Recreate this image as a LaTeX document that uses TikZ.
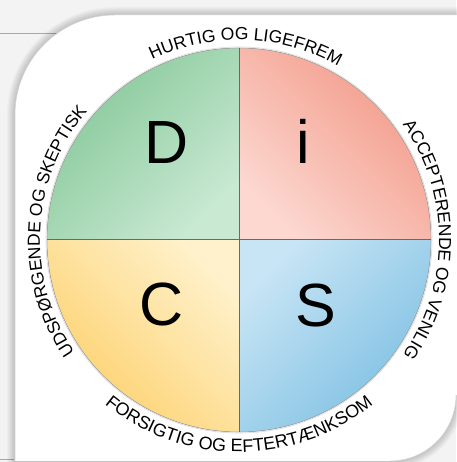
\documentclass[tikz,border=0pt]{standalone}
\usepackage{fontspec}
\setmainfont{Liberation Sans}
\usetikzlibrary{decorations.text}

\definecolor{pagegray}{HTML}{F3F3F3}
\definecolor{rulegray}{HTML}{A8A8A8}
\definecolor{splitgray}{HTML}{6E6862}
\definecolor{dgreen}{HTML}{84C797}
\definecolor{dgreenlight}{HTML}{C9E9D3}
\definecolor{ired}{HTML}{F29886}
\definecolor{iredlight}{HTML}{FCD8D1}
\definecolor{cyellow}{HTML}{FDD06A}
\definecolor{cyellowlight}{HTML}{FFF1CB}
\definecolor{sblue}{HTML}{7CBFE2}
\definecolor{sbluelight}{HTML}{C8E5F5}

\newcommand{\ringfont}{\fontsize{17.5}{17.5}\selectfont}
\newcommand{\quadfont}{\fontsize{61}{61}\selectfont}

\tikzset{
  quadletter/.style={font=\quadfont, anchor=base, inner sep=0pt},
  ringtext/.style={decorate, decoration={text along path, text align=center,
      text={|\ringfont|#1}}},
  split/.style={splitgray, line width=1pt},
}

\begin{document}
\begin{tikzpicture}[x=1pt, y=1pt]
	\useasboundingbox (0,0) rectangle (456,462);
	\fill[pagegray] (0,0) rectangle (456,462);

	% sheet behind
	\draw[rulegray, line width=1pt] (0,428) -- (80,428);
	\draw[rulegray, line width=1pt] (0,2) -- (14,2);

	% card with soft shadow
	\def\card{(15,1) -- (15,347) arc[start angle=180, end angle=90, radius=100]
		-- (470,447) -- (470,67) -- (456,67) arc[start angle=0, end angle=-90, radius=66] -- cycle}
	\foreach \w in {2,4,...,16} {
		\draw[black, opacity=0.025, line width=\w pt] \card;
	}
	\fill[white] \card;
	\draw[gray!35, line width=0.5pt] (15,1) -- (15,347) arc[start angle=180, end angle=90, radius=100] -- (470,447);
	\draw[gray!35, line width=0.5pt] (456,67) arc[start angle=0, end angle=-90, radius=66];

	% disc
	\def\R{192}
	\coordinate (o) at (239,222);
	\fill[top color=dgreen, bottom color=dgreenlight, shading angle=45]
		(o) -- ++(180:\R) arc[start angle=180, end angle=90, radius=\R] -- cycle;
	\fill[top color=ired, bottom color=iredlight, shading angle=-45]
		(o) -- ++(90:\R) arc[start angle=90, end angle=0, radius=\R] -- cycle;
	\fill[top color=cyellowlight, bottom color=cyellow, shading angle=-45]
		(o) -- ++(180:\R) arc[start angle=180, end angle=270, radius=\R] -- cycle;
	\fill[top color=sbluelight, bottom color=sblue, shading angle=45]
		(o) -- ++(270:\R) arc[start angle=270, end angle=360, radius=\R] -- cycle;
	\draw[gray!70, line width=0.6pt] (o) circle[radius=\R];
	\draw[gray!25, line width=0.8pt] (o) circle[radius=\R+1];

	\draw[split] (o) ++(90:\R) -- ++(0,-2*\R);
	\draw[split] (o) ++(180:\R) -- ++(2*\R,0);

	% letters
	\node[quadletter] (D) at (167,298) {D};
	\node[quadletter] (i) at (303,298) {i};
	\node[quadletter] (C) at (162,136) {C};
	\node[quadletter] (S) at (316,135) {S};

	% ring texts
	\path[ringtext={HURTIG OG LIGEFREM}]
		(o) ++(178:200) arc[start angle=178, end angle=-2, radius=200];
	\path[ringtext={ACCEPTERENDE OG VENLIG}]
		(o) ++(90:200) arc[start angle=90, end angle=-90, radius=200];
	\path[ringtext={UDSPØRGENDE OG SKEPTISK}]
		(o) ++(267:199) arc[start angle=267, end angle=87, radius=199];
	\path[ringtext={|\fontsize{18}{18}\selectfont|FORSIGTIG OG EFTERTÆNKSOM}]
		(o) ++(180:212) arc[start angle=180, end angle=360, radius=212];
\end{tikzpicture}
\end{document}
